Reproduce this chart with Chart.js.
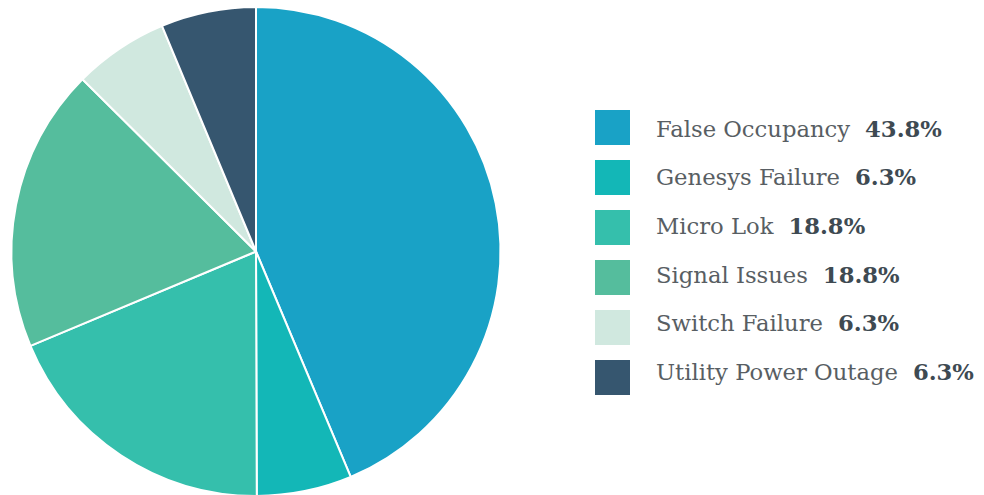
<!DOCTYPE html>
<html>
<head>
<meta charset="utf-8">
<script src="https://cdn.jsdelivr.net/npm/chart.js@4.4.1/dist/chart.umd.min.js"></script>
<style>
  html, body { margin: 0; padding: 0; background: #ffffff; }
  body { width: 984px; height: 495px; position: relative; overflow: hidden; }
  #wrap { position: absolute; left: 0; top: 0; width: 508px; height: 497px; }
  #legend { position: absolute; left: 595px; top: 110px; font-family: "DejaVu Serif", serif; }
  .row { display: flex; align-items: center; height: 35px; margin-bottom: 15px; }
  .sw { width: 35px; height: 35px; margin-right: 26px; flex: none; }
  .lab { font-size: 22.7px; color: #585e63; white-space: nowrap; position: relative; }
  .val { font-weight: bold; color: #3e4a52; margin-left: 15px; }
</style>
</head>
<body>
<div id="wrap"><canvas id="c"></canvas></div>
<div id="legend"></div>
<script>
const categories = ["False Occupancy", "Genesys Failure", "Micro Lok", "Signal Issues", "Switch Failure", "Utility Power Outage"];
const values = [43.8, 6.3, 18.8, 18.8, 6.3, 6.3];
const valueLabels = ["43.8%", "6.3%", "18.8%", "18.8%", "6.3%", "6.3%"];
const colors = ["#19a2c6", "#13b7b7", "#35bfac", "#55bd9d", "#d0e8df", "#36566f"];

const chart = new Chart(document.getElementById('c'), {
  type: 'pie',
  data: {
    labels: categories,
    datasets: [{
      data: values,
      backgroundColor: colors,
      borderColor: '#ffffff',
      borderWidth: 2
    }]
  },
  options: {
    responsive: true,
    maintainAspectRatio: false,
    animation: false,
    layout: { padding: { top: 6, bottom: 0, left: 4, right: 0 } },
    plugins: { legend: { display: false }, tooltip: { enabled: false } }
  }
});

const legend = document.getElementById('legend');
categories.forEach((c, i) => {
  const row = document.createElement('div');
  row.className = 'row';
  const sw = document.createElement('div');
  sw.className = 'sw';
  sw.style.background = colors[i];
  const lab = document.createElement('div');
  lab.className = 'lab';
  lab.style.top = (1 - i * 1.3) + 'px';
  lab.appendChild(document.createTextNode(c));
  const v = document.createElement('span');
  v.className = 'val';
  v.textContent = valueLabels[i];
  lab.appendChild(v);
  row.appendChild(sw);
  row.appendChild(lab);
  legend.appendChild(row);
});
</script>
</body>
</html>
